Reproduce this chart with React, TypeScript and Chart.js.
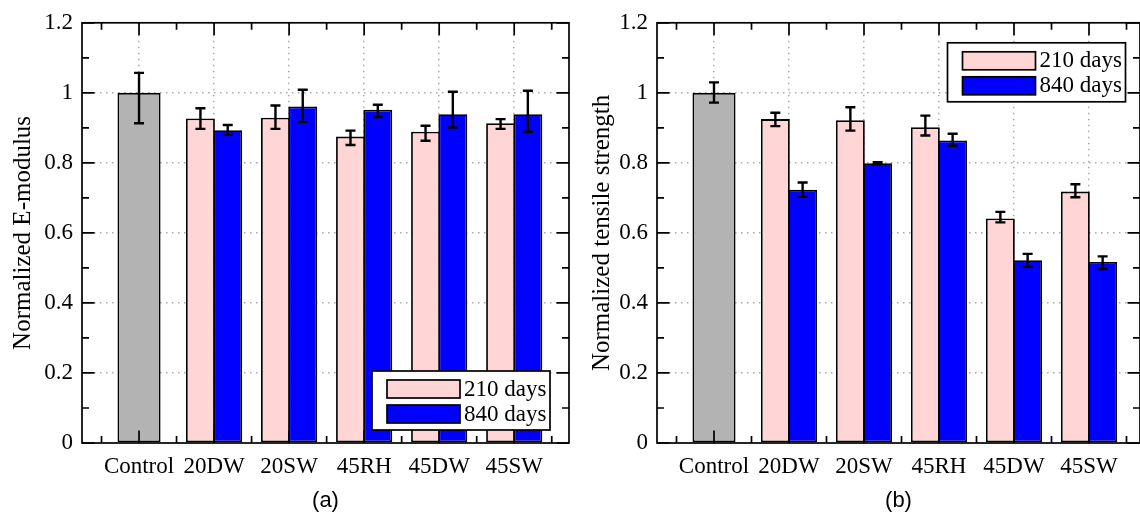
import React, { useEffect, useRef } from "react";
import { Chart, registerables } from "chart.js";

Chart.register(...registerables);

// ---------- data ----------
const categories = ["Control", "20DW", "20SW", "45RH", "45DW", "45SW"];
const seriesNames = ["210 days", "840 days"];
const yTickLabels = ["0", "0.2", "0.4", "0.6", "0.8", "1", "1.2"];

// (a) Normalized E-modulus
const modControl = [1.0, null, null, null, null, null];
const modControlHigh = [1.057, null, null, null, null, null];
const modControlLow = [0.913, null, null, null, null, null];
const mod210 = [null, 0.927, 0.929, 0.875, 0.889, 0.913];
const mod210High = [null, 0.956, 0.964, 0.892, 0.906, 0.925];
const mod210Low = [null, 0.897, 0.897, 0.851, 0.863, 0.897];
const mod840 = [null, 0.893, 0.961, 0.952, 0.939, 0.939];
const mod840High = [null, 0.908, 1.009, 0.966, 1.003, 1.006];
const mod840Low = [null, 0.88, 0.917, 0.931, 0.901, 0.889];

// (b) Normalized tensile strength
const tenControl = [1.0, null, null, null, null, null];
const tenControlHigh = [1.03, null, null, null, null, null];
const tenControlLow = [0.972, null, null, null, null, null];
const ten210 = [null, 0.925, 0.922, 0.902, 0.641, 0.718];
const ten210High = [null, 0.943, 0.959, 0.935, 0.66, 0.739];
const ten210Low = [null, 0.905, 0.892, 0.878, 0.63, 0.702];
const ten840 = [null, 0.723, 0.799, 0.864, 0.522, 0.517];
const ten840High = [null, 0.744, 0.802, 0.883, 0.54, 0.533];
const ten840Low = [null, 0.703, 0.796, 0.849, 0.503, 0.497];

// ---------- styles ----------
const GRAY = "#b3b3b3";
const PINK = "#ffd5d5";
const BLUE = "#0000ff";
const SERIF = "'Liberation Serif', 'Times New Roman', serif";
const SANS = "'Liberation Sans', Arial, sans-serif";

const xTickValues = Array.from({ length: 2 * categories.length + 1 }, (_, i) => 0.5 + i * 0.5);
const yTickValues = Array.from({ length: 2 * (yTickLabels.length - 1) + 1 }, (_, i) => i / 10);

const errorBars = {
  id: "errorBars",
  afterDatasetsDraw(chart: any) {
    const { ctx } = chart;
    const yS = chart.scales.y;
    ctx.save();
    ctx.strokeStyle = "#000";
    ctx.lineWidth = 2.4;
    ctx.setLineDash([]);
    chart.data.datasets.forEach((ds: any, di: number) => {
      const meta = chart.getDatasetMeta(di);
      meta.data.forEach((el: any, i: number) => {
        const hi = ds.errHigh[i];
        const lo = ds.errLow[i];
        if (hi == null || lo == null) return;
        const x = el.x;
        const y1 = yS.getPixelForValue(hi);
        const y2 = yS.getPixelForValue(lo);
        ctx.beginPath();
        ctx.moveTo(x, y1);
        ctx.lineTo(x, y2);
        ctx.moveTo(x - 5, y1);
        ctx.lineTo(x + 5, y1);
        ctx.moveTo(x - 5, y2);
        ctx.lineTo(x + 5, y2);
        ctx.stroke();
      });
    });
    ctx.restore();
  },
};

const frameTicks = {
  id: "frameTicks",
  afterDatasetsDraw(chart: any, _args: any, opts: any) {
    const { ctx, chartArea: a } = chart;
    const xS = chart.scales.x;
    const yS = chart.scales.y;
    const major = opts.major ?? 12.5;
    const minor = opts.minor ?? 7;
    ctx.save();
    ctx.strokeStyle = "#000";
    ctx.lineWidth = 1.7;
    ctx.setLineDash([]);
    ctx.beginPath();
    xS.ticks.forEach((t: any) => {
      const px = xS.getPixelForValue(t.value);
      if (px < a.left || px > a.right) return;
      const len = Number.isInteger(t.value) ? major : minor;
      ctx.moveTo(px, a.bottom);
      ctx.lineTo(px, a.bottom - len);
      ctx.moveTo(px, a.top);
      ctx.lineTo(px, a.top + len);
    });
    yS.ticks.forEach((t: any) => {
      const py = yS.getPixelForValue(t.value);
      const len = Math.round(t.value * 10) % 2 === 0 ? major : minor;
      ctx.moveTo(a.left, py);
      ctx.lineTo(a.left + len, py);
      ctx.moveTo(a.right, py);
      ctx.lineTo(a.right - len, py);
    });
    ctx.stroke();
    ctx.strokeRect(a.left, a.top, a.right - a.left, a.bottom - a.top);
    ctx.restore();
  },
};

const boxLegend = {
  id: "boxLegend",
  afterDraw(chart: any, _args: any, opts: any) {
    const { ctx, chartArea: a } = chart;
    const w = 178;
    const h = 59;
    const right = a.right - opts.dx;
    const left = right - w;
    const top = opts.corner === "top" ? a.top + opts.dy : a.bottom - opts.dy - h;
    ctx.save();
    ctx.setLineDash([]);
    ctx.fillStyle = "#fff";
    ctx.fillRect(left, top, w, h);
    ctx.strokeStyle = "#000";
    ctx.lineWidth = 1.7;
    ctx.strokeRect(left, top, w, h);
    const items = chart.data.datasets.slice(1);
    items.forEach((ds: any, i: number) => {
      const sy = top + 9 + i * 25;
      ctx.fillStyle = ds.backgroundColor;
      ctx.fillRect(left + 15, sy, 73, 18);
      ctx.strokeStyle = "#000";
      ctx.lineWidth = 1.7;
      ctx.strokeRect(left + 15, sy, 73, 18);
      ctx.fillStyle = "#000";
      ctx.font = `23px ${SERIF}`;
      ctx.textBaseline = "middle";
      ctx.textAlign = "left";
      ctx.fillText(ds.label, left + 92, sy + 9.5);
    });
    ctx.restore();
  },
};

type Series = {
  name: string;
  values: (number | null)[];
  high: (number | null)[];
  low: (number | null)[];
  color: string;
  barPct: number;
};

type PanelSpec = {
  left: number;
  width: number;
  xMin: number;
  xMax: number;
  padRight: number;
  yTitle: string;
  yTitlePad: number;
  xTitle: string;
  legend: { corner: string; dx: number; dy: number };
  series: Series[];
};

const panels: PanelSpec[] = [
  {
    left: 0,
    width: 575,
    xMin: 0.24,
    xMax: 6.73,
    padRight: 6,
    yTitle: "Normalized E-modulus",
    yTitlePad: 8,
    xTitle: "(a)",
    legend: { corner: "bottom", dx: 19, dy: 13 },
    series: [
      { name: categories[0], values: modControl, high: modControlHigh, low: modControlLow, color: GRAY, barPct: 0.79 },
      { name: seriesNames[0], values: mod210, high: mod210High, low: mod210Low, color: PINK, barPct: 1.06 },
      { name: seriesNames[1], values: mod840, high: mod840High, low: mod840Low, color: BLUE, barPct: 1.06 },
    ],
  },
  {
    left: 575,
    width: 565,
    xMin: 0.24,
    xMax: 6.68,
    padRight: 0,
    yTitle: "Normalized tensile strength",
    yTitlePad: 12,
    xTitle: "(b)",
    legend: { corner: "top", dx: 14.5, dy: 20 },
    series: [
      { name: categories[0], values: tenControl, high: tenControlHigh, low: tenControlLow, color: GRAY, barPct: 0.79 },
      { name: seriesNames[0], values: ten210, high: ten210High, low: ten210Low, color: PINK, barPct: 1.06 },
      { name: seriesNames[1], values: ten840, high: ten840High, low: ten840Low, color: BLUE, barPct: 1.06 },
    ],
  },
];

const HEIGHT = 519;
// Chart.js measures the bar slot against the half-step tick spacing, so the
// category share is doubled to span one full category.
const CATEGORY_SHARE = 1.454;

function Panel({ spec }: { spec: PanelSpec }) {
  const ref = useRef<HTMLCanvasElement | null>(null);

  useEffect(() => {
    if (!ref.current) return;
    const datasets = spec.series.map((s) => ({
      label: s.name,
      data: s.values.map((v, i) => ({ x: i + 1, y: v })),
      backgroundColor: s.color,
      borderColor: "#000",
      borderWidth: 1.8,
      borderSkipped: false as any,
      barPercentage: s.barPct,
      categoryPercentage: CATEGORY_SHARE,
      skipNull: true,
      errHigh: s.high,
      errLow: s.low,
    }));

    const chart = new Chart(ref.current, {
      type: "bar",
      data: { datasets: datasets as any },
      options: {
        animation: false,
        responsive: false,
        maintainAspectRatio: false,
        events: [],
        layout: { padding: { top: 16, right: spec.padRight, left: 0, bottom: 0 } },
        plugins: {
          legend: { display: false },
          tooltip: { enabled: false },
          frameTicks: { major: 12.5, minor: 7 },
          boxLegend: spec.legend,
        } as any,
        scales: {
          x: {
            type: "linear",
            min: spec.xMin,
            max: spec.xMax,
            offset: false,
            afterBuildTicks: (scale: any) => {
              scale.ticks = xTickValues.map((v) => ({ value: v }));
            },
            afterFit: (scale: any) => {
              scale.height = HEIGHT - 443;
            },
            ticks: {
              autoSkip: false,
              maxRotation: 0,
              minRotation: 0,
              padding: 10,
              color: "#000",
              font: { family: SERIF, size: 23 },
              callback: (v: any) => (Number.isInteger(v) ? categories[v - 1] ?? "" : ""),
            },
            grid: {
              offset: false,
              drawTicks: false,
              lineWidth: 1.5,
              color: (c: any) => (c.tick && Number.isInteger(c.tick.value) ? "#aaaaaa" : "rgba(0,0,0,0)"),
            },
            border: { display: false, dash: [1.5, 4.5] },
            title: {
              display: true,
              text: spec.xTitle,
              color: "#000",
              font: { family: SANS, size: 22 },
              padding: { top: 0, bottom: 5 },
            },
          } as any,
          y: {
            type: "linear",
            min: 0,
            max: 1.2,
            afterBuildTicks: (scale: any) => {
              scale.ticks = yTickValues.map((v) => ({ value: v }));
            },
            afterFit: (scale: any) => {
              scale.width = 82;
            },
            ticks: {
              autoSkip: false,
              padding: 9,
              color: "#000",
              font: { family: SERIF, size: 23 },
              callback: (_v: any, i: number) => (i % 2 === 0 ? yTickLabels[i / 2] : ""),
            },
            grid: {
              drawTicks: false,
              lineWidth: 1.5,
              color: (c: any) =>
                c.index % 2 === 0 && c.index > 0 && c.index < yTickValues.length - 1 ? "#aaaaaa" : "rgba(0,0,0,0)",
            },
            border: { display: false, dash: [1.5, 4.5] },
            title: {
              display: true,
              text: spec.yTitle,
              color: "#000",
              font: { family: SERIF, size: 25 },
              padding: { top: spec.yTitlePad, bottom: 0 },
            },
          } as any,
        },
      },
      plugins: [errorBars, frameTicks, boxLegend] as any,
    });
    return () => chart.destroy();
  }, [spec]);

  return (
    <canvas
      ref={ref}
      width={spec.width}
      height={HEIGHT}
      style={{ position: "absolute", left: spec.left, top: 0, width: spec.width, height: HEIGHT }}
    />
  );
}

export default function App() {
  return (
    <div
      style={{
        position: "absolute",
        left: 0,
        top: 0,
        width: 1140,
        height: HEIGHT,
        background: "#fff",
        overflow: "hidden",
      }}
    >
      {panels.map((p, i) => (
        <Panel key={i} spec={p} />
      ))}
    </div>
  );
}
